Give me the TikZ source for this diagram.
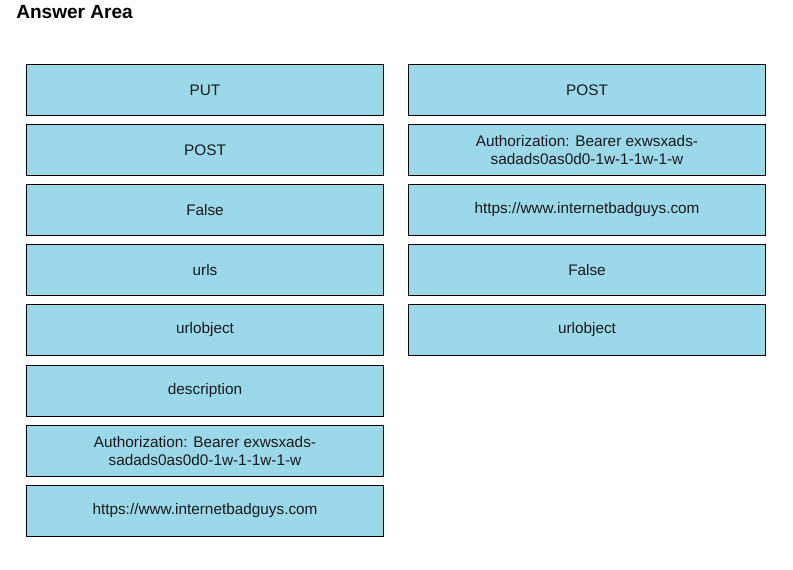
\documentclass[tikz,border=0pt]{standalone}
\usepackage{fontspec}
\setmainfont{Liberation Sans}
\definecolor{boxfill}{HTML}{9BD9EA}
\begin{document}
\begin{tikzpicture}[x=0.75pt,y=-0.75pt,
  ansbox/.style={draw=black,line width=0.9pt,fill=boxfill,minimum width=357.5*0.75pt,minimum height=51.5*0.75pt,inner sep=0pt,align=center,font=\fontsize{11.5}{13.8}\selectfont,text=black!90},
  title/.style={anchor=west,font=\fontsize{14.3}{16}\selectfont\bfseries,inner sep=0pt}]
\useasboundingbox (0,0) rectangle (793,569);
\node[title] (t) at (16,12.5) {Answer Area};
\node[ansbox] (l1) at (205,90) {PUT};
\node[ansbox] (l2) at (205,150) {POST};
\node[ansbox] (l3) at (205,210) {False};
\node[ansbox] (l4) at (205,270) {urls};
\node[ansbox] (l5) at (205,330) {urlobject};
\node[ansbox] (l6) at (205,391) {description};
\node[ansbox] (l7) at (205,451) {Authorization: Bearer exwsxads-\\sadads0as0d0-1w-1-1w-1-w};
\node[ansbox] (l8) at (205,511) {https://www.internetbadguys.com};
\node[ansbox] (r1) at (587,90) {POST};
\node[ansbox] (r2) at (587,150) {Authorization: Bearer exwsxads-\\sadads0as0d0-1w-1-1w-1-w};
\node[ansbox] (r3) at (587,210) {https://www.internetbadguys.com};
\node[ansbox] (r4) at (587,270) {False};
\node[ansbox] (r5) at (587,330) {urlobject};
\end{tikzpicture}
\end{document}
